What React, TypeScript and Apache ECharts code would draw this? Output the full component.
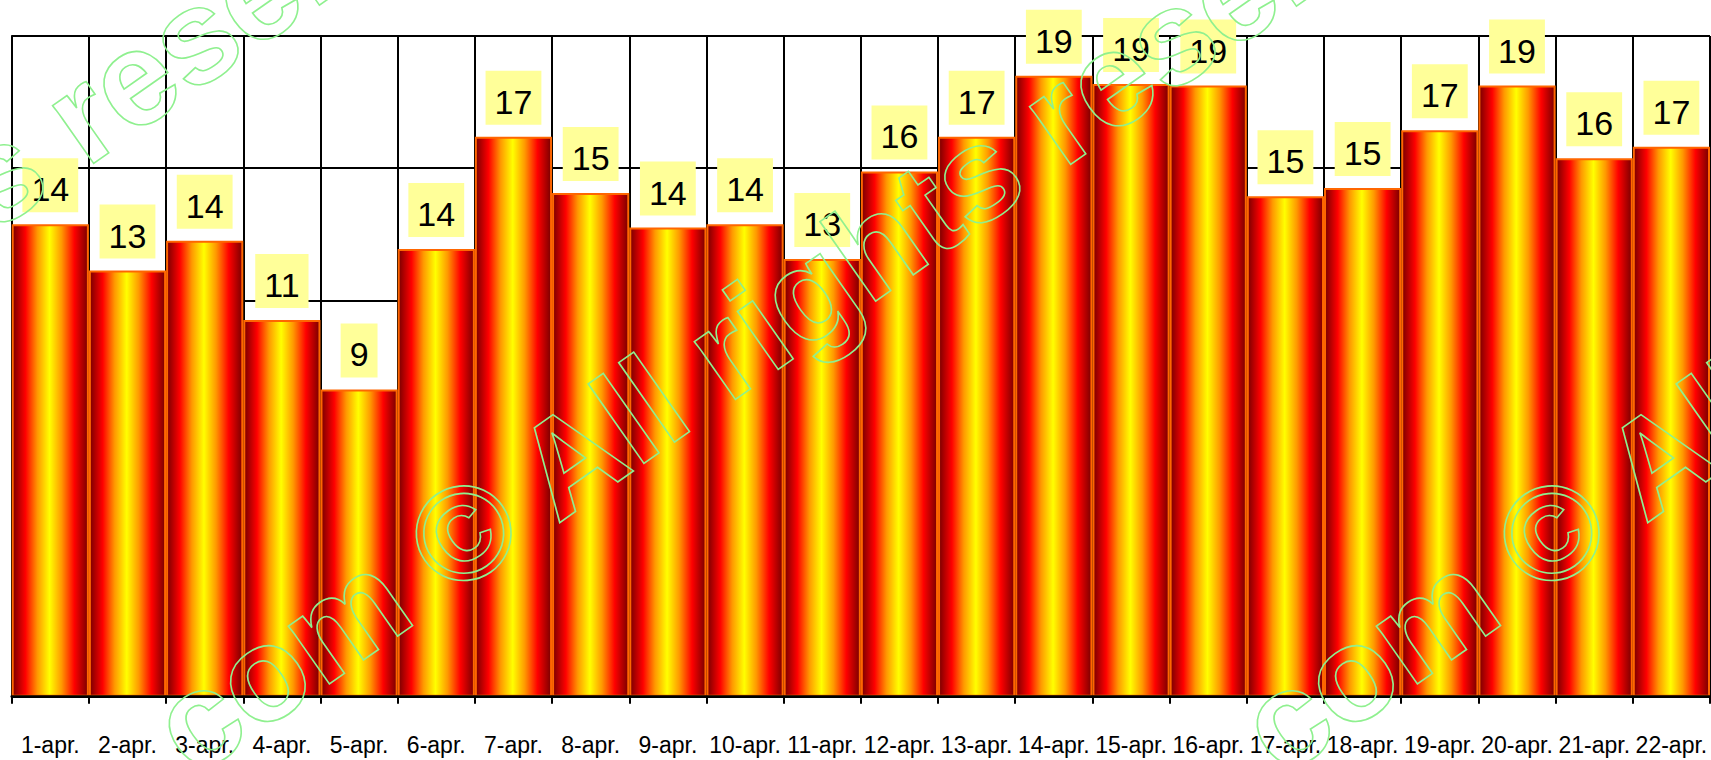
import React, { useEffect, useRef } from "react";
import * as echarts from "echarts";

const categories = [
  "1-apr.", "2-apr.", "3-apr.", "4-apr.", "5-apr.", "6-apr.", "7-apr.", "8-apr.",
  "9-apr.", "10-apr.", "11-apr.", "12-apr.", "13-apr.", "14-apr.", "15-apr.",
  "16-apr.", "17-apr.", "18-apr.", "19-apr.", "20-apr.", "21-apr.", "22-apr.",
];

const values = [
  14.3, 12.9, 13.8, 11.4, 9.3, 13.55, 16.95, 15.25, 14.2, 14.3, 13.25,
  15.9, 16.95, 18.8, 18.55, 18.5, 15.15, 15.4, 17.15, 18.5, 16.3, 16.65,
];

const yMin = 0;
const yMax = 20;
const yInterval = 4;

const watermarkText = "com © All rights reserved";

export default function App() {
  const ref = useRef<HTMLDivElement>(null);

  useEffect(() => {
    document.body.style.margin = "0";
    if (!ref.current) return;
    const chart = echarts.init(ref.current, undefined, { renderer: "svg" });

    const barGradient = new echarts.graphic.LinearGradient(0, 0, 1, 0, [
      { offset: 0, color: "#7a0000" },
      { offset: 0.17, color: "#ff0000" },
      { offset: 0.33, color: "#ff9900" },
      { offset: 0.49, color: "#ffff00" },
      { offset: 0.65, color: "#ff9900" },
      { offset: 0.82, color: "#ff0000" },
      { offset: 1, color: "#7a0000" },
    ]);

    const fontFamily = "'Liberation Sans', Arial, sans-serif";
    const ang = (35 * Math.PI) / 180;
    const wmStyle = (text: string) => ({
      text,
      font: `bold 134px ${fontFamily}`,
      fill: "transparent",
      stroke: "#8ff08f",
      lineWidth: 1.6,
      textAlign: "left",
      textVerticalAlign: "middle",
      align: "left",
      verticalAlign: "middle",
    });
    const wmAnchors = [
      [167, 741],
      [1255, 741],
      [-810, 740],
    ];

    chart.setOption({
      animation: false,
      grid: { left: 11.7, right: 1, top: 36, bottom: 63.3 },
      xAxis: [
        {
          type: "category",
          data: categories,
          boundaryGap: true,
          axisLine: { show: false },
          axisTick: { show: false },
          axisLabel: {
            interval: 0,
            margin: 37,
            color: "#000",
            fontSize: 23,
            fontFamily,
          },
          splitLine: { show: true, interval: 0, lineStyle: { color: "#000", width: 2 } },
        },
        {
          type: "category",
          data: categories,
          position: "bottom",
          boundaryGap: true,
          z: 5,
          axisLine: { show: true, onZero: false, lineStyle: { color: "#000", width: 2.5 } },
          axisTick: { show: true, interval: 0, length: 7, lineStyle: { color: "#000", width: 2 } },
          axisLabel: { show: false },
          splitLine: { show: false },
        },
      ],
      yAxis: {
        type: "value",
        min: yMin,
        max: yMax,
        interval: yInterval,
        axisLine: { show: true, lineStyle: { color: "#000", width: 2 } },
        axisTick: { show: false },
        axisLabel: { show: false },
        splitLine: { show: true, lineStyle: { color: "#000", width: 2 } },
      },
      series: [
        {
          type: "bar",
          xAxisIndex: 0,
          data: values,
          barCategoryGap: "0%",
          itemStyle: { color: barGradient, borderColor: "#ff6600", borderWidth: 2 },
          label: {
            show: true,
            position: "top",
            distance: 12,
            formatter: (p: any) => String(Math.round(p.value)),
            color: "#000",
            fontSize: 34,
            lineHeight: 34,
            fontFamily,
            backgroundColor: "#ffff99",
            padding: [14, 9, 6, 9],
          },
        },
      ],
      graphic: wmAnchors.map(([x, y]) => ({
        type: "text",
        x,
        y,
        rotation: ang,
        z: 100,
        silent: true,
        style: wmStyle(watermarkText),
      })),
    });

    return () => chart.dispose();
  }, []);

  return <div ref={ref} style={{ width: 1711, height: 760 }} />;
}
